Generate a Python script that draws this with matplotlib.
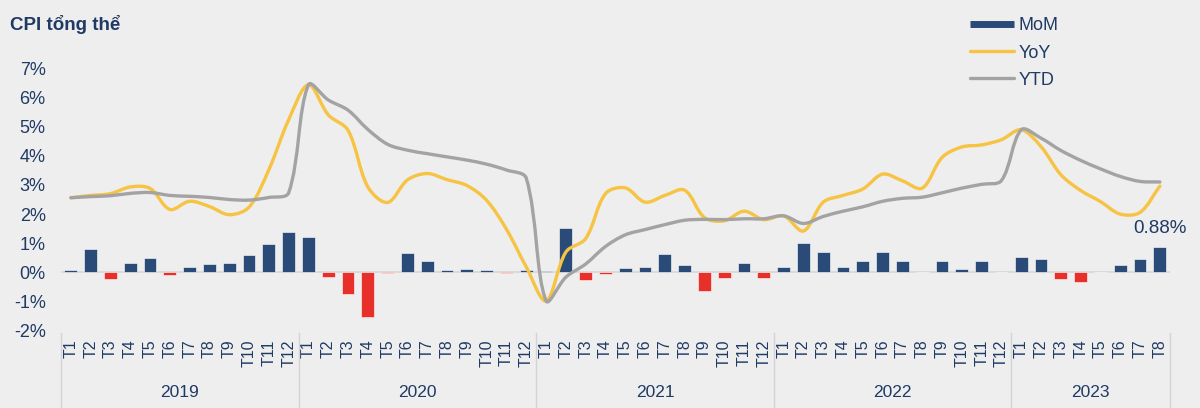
import numpy as np
import matplotlib
matplotlib.use("Agg")
import matplotlib.pyplot as plt
from matplotlib.path import Path
from matplotlib.patches import PathPatch
from matplotlib.lines import Line2D
import matplotlib.transforms as mtransforms

plt.rcParams['font.family'] = ['Liberation Sans', 'DejaVu Sans']

years = ["2019", "2020", "2021", "2022", "2023"]
months_per_year = [12, 12, 12, 12, 8]
month_labels = [f"T{m}" for n in months_per_year for m in range(1, n + 1)]

mom = [0.10, 0.80, -0.21, 0.31, 0.49, -0.09, 0.18, 0.28, 0.32, 0.59, 0.96, 1.40,
       1.23, -0.17, -0.72, -1.54, -0.03, 0.66, 0.40, 0.07, 0.12, 0.09, -0.01, 0.10,
       0.06, 1.52, -0.27, -0.04, 0.16, 0.19, 0.62, 0.25, -0.62, -0.20, 0.32, -0.18,
       0.19, 1.00, 0.70, 0.18, 0.38, 0.69, 0.40, 0.005, 0.40, 0.12, 0.39, 0.01,
       0.52, 0.45, -0.23, -0.34, 0.01, 0.27, 0.45, 0.88]
yoy = [2.56, 2.64, 2.70, 2.93, 2.88, 2.16, 2.44, 2.26, 1.98, 2.24, 3.52, 5.23,
       6.43, 5.40, 4.87, 2.93, 2.40, 3.17, 3.39, 3.18, 2.98, 2.47, 1.48, 0.19,
       -0.97, 0.70, 1.16, 2.70, 2.90, 2.41, 2.64, 2.82, 1.88, 1.77, 2.10, 1.81,
       1.94, 1.42, 2.41, 2.64, 2.86, 3.37, 3.14, 2.89, 3.94, 4.30, 4.37, 4.55,
       4.89, 4.31, 3.35, 2.81, 2.43, 2.00, 2.06, 2.96]
ytd = [2.56, 2.60, 2.63, 2.71, 2.74, 2.64, 2.61, 2.57, 2.50, 2.48, 2.57, 2.73,
       6.43, 5.91, 5.56, 4.90, 4.39, 4.19, 4.07, 3.96, 3.85, 3.71, 3.51, 3.23,
       -0.97, -0.16, 0.29, 0.89, 1.29, 1.47, 1.64, 1.79, 1.82, 1.81, 1.84, 1.84,
       1.94, 1.68, 1.92, 2.10, 2.25, 2.44, 2.54, 2.58, 2.73, 2.89, 3.02, 3.15,
       4.89, 4.60, 4.18, 3.84, 3.55, 3.29, 3.12, 3.10]
yticks = list(range(-2, 8))

NAVY = "#2a4b78"
RED = "#e8302a"
YELLOW = "#f6c343"
GRAY = "#a3a3a3"
TEXT = "#1f3a64"
BG = "#eeeeee"


def smooth_path(xs, ys, sx=19.8, sy=29.2):
    # Excel-like smoothed line: bezier handles scaled by neighbouring chord lengths
    pts = np.column_stack([xs, ys]).astype(float)
    n = len(pts)
    scale = np.array([sx, sy])
    out_c, in_c = [], []
    for i in range(n):
        prev = pts[max(i - 1, 0)]
        nxt = pts[min(i + 1, n - 1)]
        tan = nxt - prev
        d0 = np.linalg.norm((pts[i] - prev) * scale)
        d1 = np.linalg.norm((nxt - pts[i]) * scale)
        tot = d0 + d1 if d0 + d1 > 0 else 1.0
        out_c.append(pts[i] + tan * d1 / tot / 3)
        in_c.append(pts[i] - tan * d0 / tot / 3)
    verts, codes = [pts[0]], [Path.MOVETO]
    for i in range(n - 1):
        verts += [out_c[i], in_c[i + 1], pts[i + 1]]
        codes += [Path.CURVE4] * 3
    return Path(verts, codes)


x = np.arange(len(mom))
fig = plt.figure(figsize=(12, 4.08), dpi=100, facecolor=BG)
ax = fig.add_axes([0.0508, 0.189, 0.924, 0.644], facecolor=BG)

colors = [NAVY if v >= 0 else RED for v in mom]
ax.bar(x, mom, width=0.65, color=colors, edgecolor="white", linewidth=0.4, zorder=2)
ax.axhline(0, color="#d6d6d6", lw=1.2, zorder=1)

ax.add_patch(PathPatch(smooth_path(x, yoy), fill=False, edgecolor=YELLOW, lw=2.4,
                       capstyle="round", joinstyle="round", zorder=3))
ax.add_patch(PathPatch(smooth_path(x, ytd), fill=False, edgecolor=GRAY, lw=2.4,
                       capstyle="round", joinstyle="round", zorder=4))

ax.set_xlim(-0.5, len(mom) - 0.5)
ax.set_ylim(-2, 7)
ax.set_yticks(yticks)
ax.set_yticklabels([f"{t}%" for t in yticks], color=TEXT, fontsize=13)
ax.set_xticks(x)
ax.set_xticklabels(month_labels, rotation=90, color=TEXT, fontsize=11.5, va="top")
ax.tick_params(axis="both", length=0)
ax.tick_params(axis="x", pad=6)
ax.tick_params(axis="y", pad=11)
for s in ax.spines.values():
    s.set_visible(False)

# year groups under the month labels
trans = mtransforms.blended_transform_factory(ax.transData, fig.transFigure)
edges = np.concatenate([[0], np.cumsum(months_per_year)]) - 0.5
for e in edges:
    fig.add_artist(Line2D([e, e], [0.0, 0.185], transform=trans, color="#d4d4d4", lw=1))
for yr, a, b in zip(years, edges[:-1], edges[1:]):
    fig.text((a + b) / 2, 0.037, yr, transform=trans, ha="center", va="center",
             color=TEXT, fontsize=12.5)

ax.annotate(f"{mom[-1]:.2f}%", (x[-1], mom[-1]), xytext=(0, 7), textcoords="offset points",
            ha="center", va="bottom", color=TEXT, fontsize=13.5)

fig.text(0.008, 0.94, "CPI tổng thể", color=TEXT, fontsize=13.5, fontweight="bold",
         ha="left", va="center")

handles = [Line2D([], [], color=NAVY, lw=5, solid_capstyle="butt"),
           Line2D([], [], color=YELLOW, lw=2.4, solid_capstyle="round"),
           Line2D([], [], color=GRAY, lw=2.4, solid_capstyle="round")]
leg = fig.legend(handles, ["MoM", "YoY", "YTD"], loc="upper left",
                 bbox_to_anchor=(0.795, 0.997), frameon=False, fontsize=13,
                 handlelength=2.4, labelspacing=0.56, handletextpad=0.3)
for t in leg.get_texts():
    t.set_color(TEXT)

fig.savefig("out.png", dpi=100, facecolor=BG)
